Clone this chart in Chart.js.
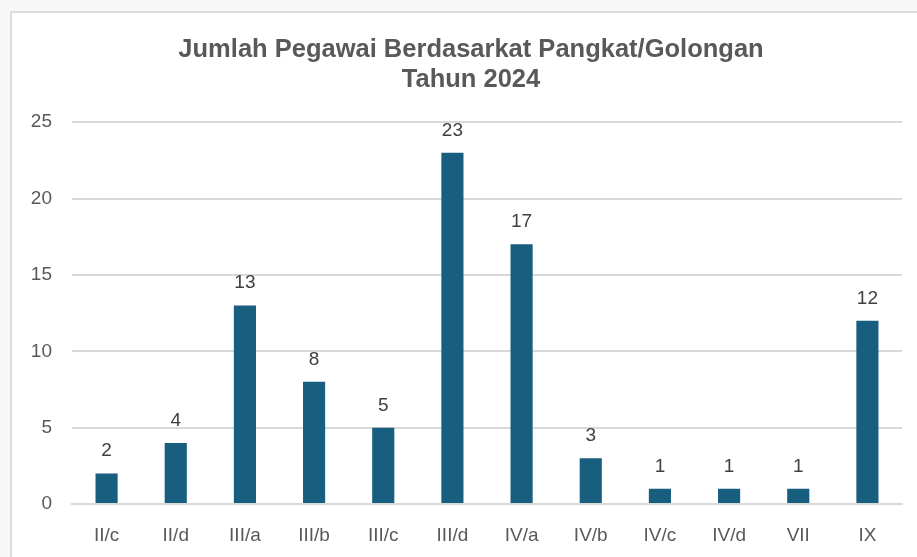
<!DOCTYPE html>
<html>
<head>
<meta charset="utf-8">
<script src="https://cdn.jsdelivr.net/npm/chart.js@4"></script>
<style>
  html, body { margin: 0; padding: 0; width: 917px; height: 557px; overflow: hidden; background: #f7f7f7; }
  #box { position: absolute; left: 10px; top: 11px; width: 918px; height: 560px; background: #fff; border: 2px solid #dcdcdc; }
  #chart { position: absolute; left: 0; top: 0; }
</style>
</head>
<body>
<div id="box"><canvas id="chart" width="918" height="560"></canvas></div>
<script>
const categories = ["II/c", "II/d", "III/a", "III/b", "III/c", "III/d", "IV/a", "IV/b", "IV/c", "IV/d", "VII", "IX"];
const jumlahPegawai = [2, 4, 13, 8, 5, 23, 17, 3, 1, 1, 1, 12];
const titleLines = ["Jumlah Pegawai Berdasarkat Pangkat/Golongan", "Tahun 2024"];

const FONT = "'Liberation Sans', Arial, sans-serif";

// value labels above each bar
const valueLabels = {
  id: "valueLabels",
  afterDatasetsDraw(chart) {
    const ctx = chart.ctx;
    const meta = chart.getDatasetMeta(0);
    ctx.save();
    ctx.font = "19px " + FONT;
    ctx.fillStyle = "#404040";
    ctx.textAlign = "center";
    ctx.textBaseline = "alphabetic";
    meta.data.forEach((bar, i) => {
      ctx.fillText(String(jumlahPegawai[i]), bar.x, bar.y - 17);
    });
    ctx.restore();
  },
};

const ctx = document.getElementById("chart").getContext("2d");
const chart = new Chart(ctx, {
  type: "bar",
  data: {
    labels: categories,
    datasets: [
      {
        label: "Jumlah",
        data: jumlahPegawai,
        backgroundColor: "#175e7f",
        categoryPercentage: 1,
        barPercentage: 0.32,
      },
    ],
  },
  options: {
    responsive: false,
    animation: false,
    layout: { padding: 0 },
    scales: {
      x: {
        grid: { display: false, drawTicks: false },
        border: { display: true, color: "#d9d9d9", width: 2 },
        ticks: { color: "#595959", font: { family: FONT, size: 19 }, padding: 20, maxRotation: 0 },
        afterFit: (scale) => { scale.height = 69; },
      },
      y: {
        min: 0,
        max: 25,
        grid: { color: "#d9d9d9", lineWidth: 2, drawTicks: false },
        border: { display: false },
        ticks: { stepSize: 5, color: "#595959", font: { family: FONT, size: 19 }, padding: 20 },
        afterFit: (scale) => { scale.width = 60; },
      },
      // empty right margin so the title stays centred on the whole box
      yRight: {
        position: "right",
        display: true,
        grid: { display: false, drawTicks: false },
        border: { display: false },
        ticks: { display: false },
        afterFit: (scale) => { scale.width = 28; },
      },
    },
    plugins: {
      legend: { display: false },
      tooltip: { enabled: false },
      title: {
        display: true,
        text: titleLines,
        color: "#595959",
        font: { family: FONT, size: 25.5, weight: "bold", lineHeight: 1.18 },
        padding: { top: 22, bottom: 27 },
      },
    },
  },
  plugins: [valueLabels],
});
</script>
</body>
</html>
